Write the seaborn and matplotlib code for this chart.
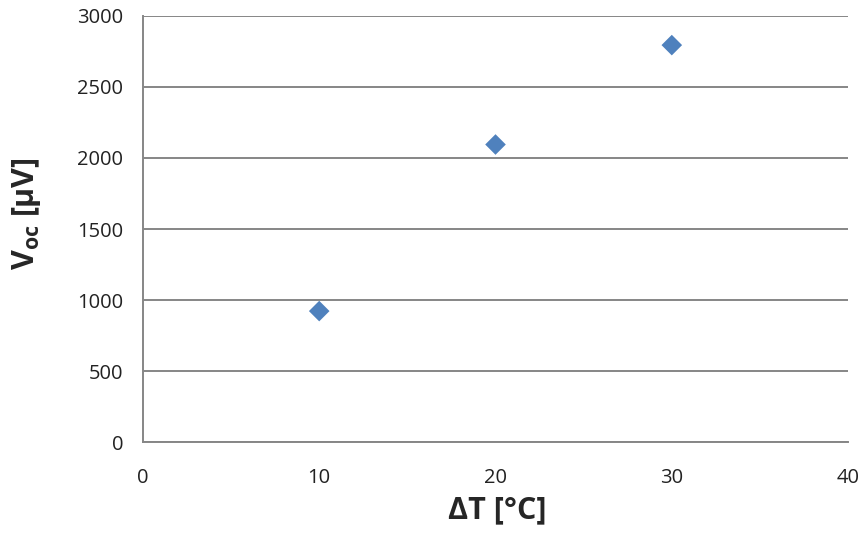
import matplotlib
matplotlib.use("Agg")
import matplotlib.pyplot as plt
import seaborn as sns
import pandas as pd

# readings from the chart
delta_t = [10, 20, 30]
v_oc = [922, 2095, 2795]

x_ticks = [0, 10, 20, 30, 40]
y_ticks = [0, 500, 1000, 1500, 2000, 2500, 3000]

df = pd.DataFrame({"dT": delta_t, "Voc": v_oc})

sns.set_style("white")
plt.rcParams["font.family"] = ["Open Sans", "DejaVu Sans"]
plt.rcParams["mathtext.fontset"] = "custom"
plt.rcParams["mathtext.rm"] = "Open Sans"
plt.rcParams["mathtext.bf"] = "Open Sans:bold"

grid_col = "#868686"

fig = plt.figure(figsize=(8.61, 5.33), dpi=100)
ax = fig.add_axes([0.166, 0.1707, 0.819, 0.7993])

sns.scatterplot(data=df, x="dT", y="Voc", marker="D", s=110,
                color="#4F81BD", edgecolor="none", ax=ax, zorder=3)

ax.set_xlim(0, 40)
ax.set_ylim(0, 3000)
ax.set_xticks(x_ticks)
ax.set_yticks(y_ticks)
ax.yaxis.grid(True, color=grid_col, linewidth=1.4)
ax.xaxis.grid(False)
ax.set_axisbelow(True)

for side in ["top", "right"]:
    ax.spines[side].set_visible(False)
for side in ["left", "bottom"]:
    ax.spines[side].set_color(grid_col)
    ax.spines[side].set_linewidth(1.4)

ax.tick_params(axis="both", which="major", direction="out", length=6,
               width=1.4, color=grid_col, labelsize=14.5, labelcolor="#222222")
ax.tick_params(axis="x", pad=13)
ax.tick_params(axis="y", pad=8)

ax.set_xlabel("ΔT [°C]", fontsize=22, fontweight="bold")
ax.set_ylabel(r"$\mathbf{V_{oc}}$ [µV]", fontsize=22, fontweight="bold")
ax.xaxis.set_label_coords(0.502, -0.124)
ax.yaxis.set_label_coords(-0.142, 0.535)

fig.savefig("out.png", dpi=100)
